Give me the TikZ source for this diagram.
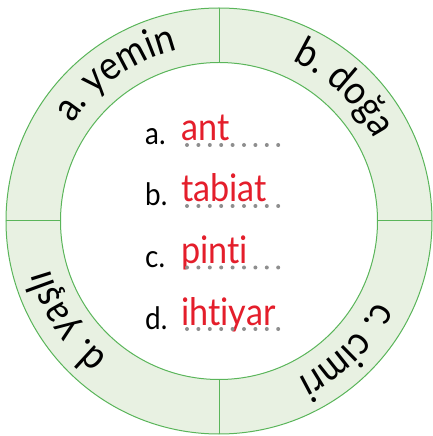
\documentclass[tikz,border=0pt]{standalone}
\usepackage{fontspec}
\setmainfont{Lato}[Ligatures={NoCommon,NoRequired}, FakeStretch=0.9]
\usetikzlibrary{decorations.text}
\definecolor{ringfill}{HTML}{E8F1E2}
\definecolor{ringline}{HTML}{5AB55A}
\definecolor{answred}{HTML}{E41E2B}
\definecolor{dotgray}{HTML}{8E8E8E}
\newcommand{\ringfont}{\fontsize{40}{40}\selectfont}
\begin{document}
\begin{tikzpicture}[x=1pt,y=1pt,
  ringtext/.style={decorate, decoration={text along path, text align=center, text={|\ringfont|#1}}},
  letter/.style={anchor=base west, inner sep=0pt, font=\fontsize{31}{31}\selectfont, text=black},
  answer/.style={anchor=base west, inner sep=0pt, font=\fontsize{38}{38}\selectfont, text=answred},
  dotmark/.style={fill=dotgray, draw=none},
  ringedge/.style={draw=ringline, line width=1pt}]
\useasboundingbox (-219,-215) rectangle (213,221);
% ring
\fill[ringfill, even odd rule] (0,0) circle (213pt) (0,0) circle (158.5pt);
\draw[ringedge] (0,0) circle (213pt);
\draw[ringedge] (0,0) circle (158.5pt);
\coordinate (ti) at (90:158.5pt); \coordinate (to) at (90:213pt);
\coordinate (bi) at (270:158.5pt); \coordinate (bo) at (270:213pt);
\coordinate (li) at (180:158.5pt); \coordinate (lo) at (180:213pt);
\coordinate (ri) at (0:158.5pt); \coordinate (ro) at (0:213pt);
\draw[ringedge] (ti) -- (to);
\draw[ringedge] (bi) -- (bo);
\draw[ringedge] (li) -- (lo);
\draw[ringedge] (ri) -- (ro);
% ring labels (clockwise, tops outward)
\path[ringtext={a. yemin}] (165:176pt) arc[start angle=165, end angle=85, radius=176pt];
\path[ringtext={b. doğa}] (86.5:176pt) arc[start angle=86.5, end angle=6.5, radius=176pt];
\path[ringtext={c. cimri}] (-5.25:176pt) arc[start angle=-5.25, end angle=-85.25, radius=176pt];
\path[ringtext={d. yaşlı}] (253.25:176pt) arc[start angle=253.25, end angle=173.25, radius=176pt];
% list
\node[letter] (la) at (-74,76) {a.};
\node[letter] (lb) at (-74,15) {b.};
\node[letter] (lc) at (-74,-46.5) {c.};
\node[letter] (ld) at (-74,-108) {d.};
\node[answer] (aa) at (-38,80) {ant};
\node[answer] (ab) at (-38,19) {tabiat};
\node[answer] (ac) at (-38,-42.5) {pinti};
\node[answer] (ad) at (-38,-104) {ihtiyar};
\foreach \y in {76,15,-46.5,-108}
  \foreach \i in {0,...,8}
    \fill[dotmark] ({-32+11.4*\i},\y) circle (2pt);
\end{tikzpicture}
\end{document}
